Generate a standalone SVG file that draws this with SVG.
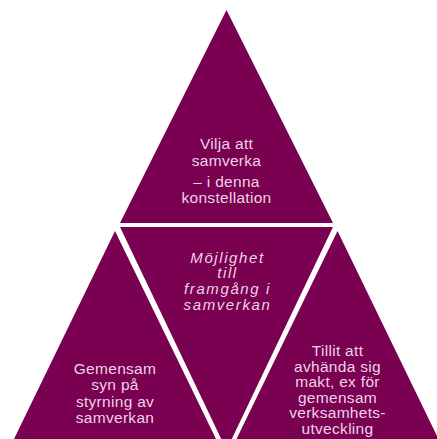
<svg xmlns="http://www.w3.org/2000/svg" width="437" height="439" viewBox="0 0 437 439">
<style>
.tri{fill:#7A0051}
.t{font-family:"Liberation Sans",Arial,sans-serif;font-size:15.5px;fill:#EED3E6;text-anchor:middle;letter-spacing:0.3px}
.it{font-family:"Liberation Sans",Arial,sans-serif;font-size:15px;font-style:italic;fill:#EED3E6;text-anchor:middle;letter-spacing:1.6px}
</style>
<rect width="437" height="439" fill="#FFFFFF"/>
<g id="top">
<polygon class="tri" points="226.5,10 120,223 333,223"/>
<text class="t" x="226.5" y="149">Vilja att</text>
<text class="t" x="226.5" y="165.5">samverka</text>
<text class="t" x="226.5" y="187">– i denna</text>
<text class="t" x="226.5" y="203">konstellation</text>
</g>
<g id="center">
<polygon class="tri" points="120,227 333,227 226.5,450"/>
<text class="it" x="227.5" y="262.5">Möjlighet</text>
<text class="it" x="227.5" y="278">till</text>
<text class="it" x="227.5" y="294">framgång i</text>
<text class="it" x="227.5" y="310">samverkan</text>
</g>
<g id="left">
<polygon class="tri" points="115,231 14,439 216,439"/>
<text class="t" x="115" y="374">Gemensam</text>
<text class="t" x="115" y="390">syn på</text>
<text class="t" x="115" y="406.5">styrning av</text>
<text class="t" x="115" y="422.5">samverkan</text>
</g>
<g id="right">
<polygon class="tri" points="337.5,231 236.5,439 438.5,439"/>
<text class="t" x="337.5" y="356">Tillit att</text>
<text class="t" x="337.5" y="371.6">avhända sig</text>
<text class="t" x="337.5" y="387.2">makt, ex för</text>
<text class="t" x="337.5" y="402.8">gemensam</text>
<text class="t" x="337.5" y="418.4">verksamhets-</text>
<text class="t" x="337.5" y="434">utveckling</text>
</g>
</svg>
